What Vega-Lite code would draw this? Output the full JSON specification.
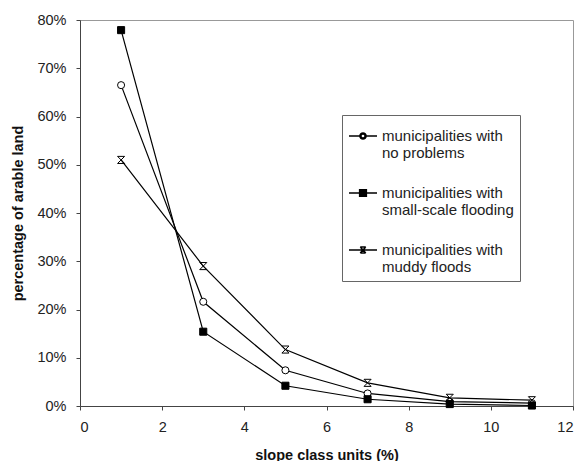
{
  "$schema": "https://vega.github.io/schema/vega-lite/v6.json",
  "width": 493,
  "height": 386,
  "autosize": "none",
  "padding": {"left": 80, "top": 20, "right": 10, "bottom": 55},
  "background": "white",
  "data": {
    "values": [
      {"x": 1, "v": 0.665, "s": "a"},
      {"x": 3, "v": 0.216, "s": "a"},
      {"x": 5, "v": 0.074, "s": "a"},
      {"x": 7, "v": 0.026, "s": "a"},
      {"x": 9, "v": 0.009, "s": "a"},
      {"x": 11, "v": 0.006, "s": "a"},
      {"x": 1, "v": 0.779, "s": "b"},
      {"x": 3, "v": 0.154, "s": "b"},
      {"x": 5, "v": 0.042, "s": "b"},
      {"x": 7, "v": 0.014, "s": "b"},
      {"x": 9, "v": 0.004, "s": "b"},
      {"x": 11, "v": 0.001, "s": "b"},
      {"x": 1, "v": 0.51, "s": "c"},
      {"x": 3, "v": 0.29, "s": "c"},
      {"x": 5, "v": 0.117, "s": "c"},
      {"x": 7, "v": 0.048, "s": "c"},
      {"x": 9, "v": 0.017, "s": "c"},
      {"x": 11, "v": 0.012, "s": "c"}
    ]
  },
  "encoding": {
    "x": {
      "field": "x", "type": "quantitative",
      "scale": {"domain": [0, 12], "nice": false, "zero": true},
      "axis": {
        "title": "slope class units (%)",
        "values": [0, 2, 4, 6, 8, 10, 12],
        "format": "d",
        "labelPadding": 10,
        "titleY": 49,
        "titleBaseline": "middle"
      }
    },
    "y": {
      "field": "v", "type": "quantitative",
      "scale": {"domain": [0, 0.8], "nice": false},
      "axis": {
        "title": "percentage of arable land",
        "values": [0, 0.1, 0.2, 0.3, 0.4, 0.5, 0.6, 0.7, 0.8],
        "format": ".0%",
        "labelPadding": 10,
        "titleX": -62,
        "titleY": 193,
        "titleAngle": -90,
        "titleAlign": "center",
        "titleBaseline": "middle"
      }
    }
  },
  "layer": [
    {
      "mark": {"type": "line", "color": "black", "strokeWidth": 1.2},
      "encoding": {"detail": {"field": "s"}}
    },
    {
      "mark": {"type": "point", "filled": true, "stroke": "black", "strokeWidth": 1, "size": 50, "opacity": 1},
      "encoding": {
        "shape": {
          "field": "s", "type": "nominal",
          "scale": {"domain": ["a", "b", "c"], "range": ["circle", "square", "M-1,-1H1M-1,1H1M-1,-1L1,1M1,-1L-1,1"]},
          "legend": null
        },
        "fill": {
          "field": "s", "type": "nominal",
          "scale": {"domain": ["a", "b", "c"], "range": ["white", "black", "white"]},
          "legend": null
        }
      }
    },
    {
      "mark": {"type": "point", "filled": true, "fill": "black", "stroke": "black", "strokeWidth": 1, "opacity": 0},
      "encoding": {
        "shape": {
          "field": "s", "type": "nominal",
          "scale": {"domain": ["a", "b", "c"], "range": [
            "M-1,0H-0.22M0.22,0H1M-0.22,0A0.22,0.22 0 1,1 0.22,0A0.22,0.22 0 1,1 -0.22,0ZM-0.15,0A0.15,0.15 0 1,0 0.15,0A0.15,0.15 0 1,0 -0.15,0Z",
            "M-1,0H1M-0.24,-0.24H0.24V0.24H-0.24Z",
            "M-1,0H1M-0.2,-0.22H0.2M-0.2,0.22H0.2M-0.2,-0.22L0.2,0.22M0.2,-0.22L-0.2,0.22"
          ]},
          "legend": {
            "title": null,
            "orient": "none",
            "legendX": 262,
            "legendY": 95,
            "padding": 6,
            "strokeColor": "#666",
            "fillColor": "white",
            "symbolSize": 784,
            "labelOffset": 4,
            "labelFont": "Liberation Sans",
            "labelFontSize": 15,
            "labelLineHeight": 17,
            "labelColor": "#222",
            "labelLimit": 300,
            "rowPadding": 17,
            "labelExpr": "datum.value == 'a' ? ['municipalities with', 'no problems'] : datum.value == 'b' ? ['municipalities with', 'small-scale flooding'] : ['municipalities with', 'muddy floods']",
            "encode": {
              "symbols": {
                "update": {
                  "stroke": {"value": "black"},
                  "strokeWidth": {"value": 1},
                  "fill": {"value": "black"},
                  "opacity": {"value": 1},
                  "fillOpacity": {"value": 1},
                  "strokeOpacity": {"value": 1},
                  "size": {"value": 784}
                }
              }
            }
          }
        }
      }
    }
  ],
  "resolve": {"scale": {"shape": "independent"}},
  "config": {
    "view": {"stroke": "#999", "strokeWidth": 1},
    "axis": {
      "grid": false,
      "domainColor": "#444",
      "tickColor": "#444",
      "tickSize": 4,
      "labelFont": "Liberation Sans",
      "labelFontSize": 14.5,
      "labelColor": "#222",
      "titleFont": "Liberation Sans",
      "titleFontSize": 14.5,
      "titleFontWeight": "bold",
      "titleColor": "#111"
    }
  }
}
